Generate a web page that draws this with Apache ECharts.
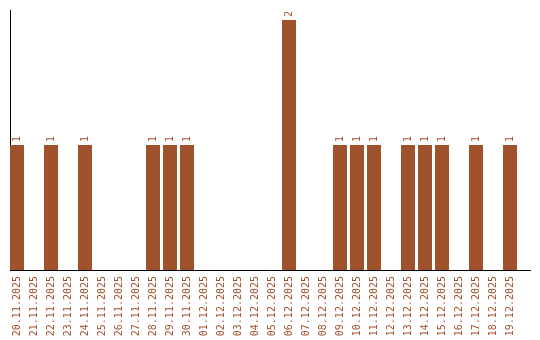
<!DOCTYPE html>
<html><head><meta charset="utf-8">
<script src="https://cdn.jsdelivr.net/npm/echarts@6/dist/echarts.min.js"></script>
<style>html,body{margin:0;padding:0;background:#fff}#c{width:540px;height:340px}</style>
</head><body><div id="c"></div>
<script>
var categories = ["20.11.2025","21.11.2025","22.11.2025","23.11.2025","24.11.2025","25.11.2025","26.11.2025","27.11.2025","28.11.2025","29.11.2025","30.11.2025","01.12.2025","02.12.2025","03.12.2025","04.12.2025","05.12.2025","06.12.2025","07.12.2025","08.12.2025","09.12.2025","10.12.2025","11.12.2025","12.12.2025","13.12.2025","14.12.2025","15.12.2025","16.12.2025","17.12.2025","18.12.2025","19.12.2025"];
var values = [1,0,1,0,1,0,0,0,1,1,1,0,0,0,0,0,2,0,0,1,1,1,0,1,1,1,0,1,0,1];
var color = '#A0522D';
var chart = echarts.init(document.getElementById('c'), null, {renderer:'canvas'});
chart.setOption({
  animation:false,
  grid:{left:8.5, width:510, top:10, height:260},
  xAxis:{type:'category', data:categories,
    axisLine:{show:false}, axisTick:{show:false},
    axisLabel:{rotate:90, interval:0, margin:6, color:color, fontFamily:'DejaVu Sans Mono', fontSize:10}},
  yAxis:{type:'value', min:0, max:2.08, axisLine:{show:false}, axisTick:{show:false}, axisLabel:{show:false}, splitLine:{show:false}},
  series:[{type:'bar', data:values, barWidth:14, itemStyle:{color:color},
    label:{show:true, position:'top', rotate:90, align:'left', verticalAlign:'middle', distance:3,
      color:color, fontFamily:'DejaVu Sans Mono', fontSize:10,
      formatter:function(p){return p.value>0?String(p.value):'';}}}],
  graphic:[
    {type:'line', shape:{x1:10.5, y1:10, x2:10.5, y2:270}, style:{stroke:'#000', lineWidth:1}, silent:true},
    {type:'line', shape:{x1:10, y1:270.5, x2:531, y2:270.5}, style:{stroke:'#000', lineWidth:1}, silent:true}
  ]
});
</script></body></html>
